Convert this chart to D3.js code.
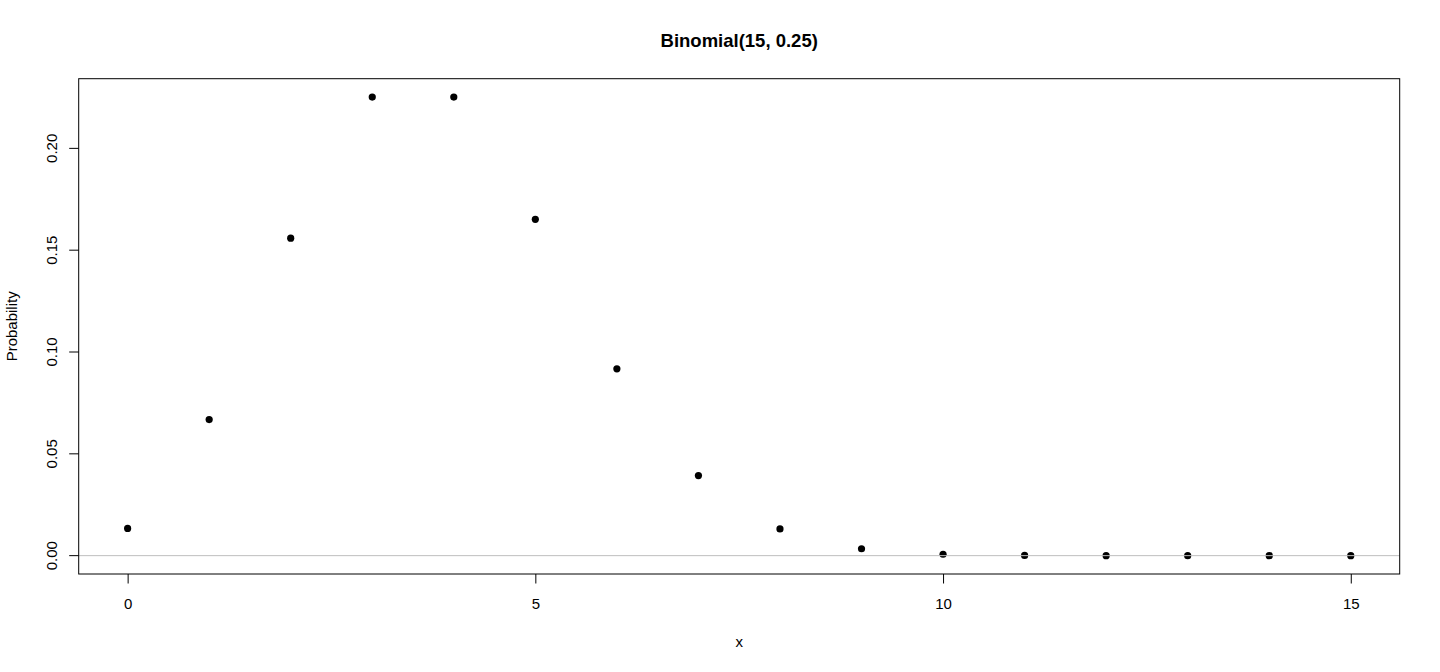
<!DOCTYPE html>
<html>
<head>
<meta charset="utf-8">
<script src="https://cdn.jsdelivr.net/npm/d3@7"></script>
<style>
  body { margin: 0; background: #fff; }
  svg { display: block; font-family: "Liberation Sans", Arial, Helvetica, sans-serif; }
</style>
</head>
<body>
<div id="chart"></div>
<script>
var width = 1440,
    height = 672;

// x values and binomial(15, 0.25) probabilities
var xs = [0, 1, 2, 3, 4, 5, 6, 7, 8, 9, 10, 11, 12, 13, 14, 15];
var probs = [0.01336, 0.06682, 0.15591, 0.22520, 0.22520, 0.16515, 0.09175, 0.03932,
             0.01311, 0.00340, 0.00068, 0.000103, 0.0000115, 0.00000088, 0.000000042, 0.0000000009];
var xTicks = [0, 5, 10, 15];
var yTicks = [0, 0.05, 0.10, 0.15, 0.20];

var margin = {left: 78.7, right: 40.3, top: 78.7, bottom: 98};

var svg = d3.select("#chart").append("svg")
    .attr("width", width)
    .attr("height", height);

// R style 4% padding on both axes
var xPad = (15 - 0) * 0.04,
    yMax = d3.max(probs),
    yPad = yMax * 0.04;

var x = d3.scaleLinear()
    .domain([0 - xPad, 15 + xPad])
    .range([margin.left, width - margin.right]);

var y = d3.scaleLinear()
    .domain([0 - yPad, yMax + yPad])
    .range([height - margin.bottom, margin.top]);

var plotBottom = height - margin.bottom;

// points
svg.selectAll(".pt")
    .data(xs)
    .enter()
    .append("circle")
    .attr("class", "pt")
    .attr("cx", d => x(d))
    .attr("cy", (d, i) => y(probs[i]))
    .attr("r", 3.6)
    .attr("fill", "#000");

// zero reference line
svg.append("line")
    .attr("x1", margin.left)
    .attr("x2", width - margin.right)
    .attr("y1", y(0))
    .attr("y2", y(0))
    .attr("stroke", "#bebebe")
    .attr("stroke-width", 1);

// box
svg.append("rect")
    .attr("x", margin.left)
    .attr("y", margin.top)
    .attr("width", width - margin.left - margin.right)
    .attr("height", plotBottom - margin.top)
    .attr("fill", "none")
    .attr("stroke", "#000")
    .attr("stroke-width", 1);

// x axis
var xAxis = svg.append("g")
    .attr("transform", "translate(0," + plotBottom + ")")
    .call(d3.axisBottom(x).tickValues(xTicks).tickSize(9.5).tickPadding(15).tickFormat(d3.format("d")));
xAxis.select(".domain").remove();
xAxis.selectAll("text").style("font-size", "15px").attr("fill", "#000");

// y axis
var yAxis = svg.append("g")
    .attr("transform", "translate(" + margin.left + ",0)")
    .call(d3.axisLeft(y).tickValues(yTicks).tickSize(9.5).tickFormat(d3.format(".2f")));
yAxis.select(".domain").remove();
yAxis.selectAll("text")
    .style("font-size", "15px")
    .attr("fill", "#000")
    .attr("text-anchor", "middle")
    .attr("dy", null)
    .attr("x", null)
    .attr("dominant-baseline", "central")
    .attr("transform", d => "translate(" + (-27) + "," + y(d) + ") rotate(-90)")
    .attr("y", 0);
yAxis.selectAll(".tick").attr("transform", null);
yAxis.selectAll(".tick line")
    .attr("y1", d => y(d))
    .attr("y2", d => y(d));

// title
svg.append("text")
    .attr("x", (margin.left + width - margin.right) / 2)
    .attr("y", 47)
    .attr("text-anchor", "middle")
    .style("font-size", "18.5px")
    .style("font-weight", "bold")
    .text("Binomial(15, 0.25)");

// axis labels
svg.append("text")
    .attr("x", (margin.left + width - margin.right) / 2)
    .attr("y", 647)
    .attr("text-anchor", "middle")
    .style("font-size", "15px")
    .text("x");

svg.append("text")
    .attr("transform", "translate(17," + ((margin.top + plotBottom) / 2) + ") rotate(-90)")
    .attr("text-anchor", "middle")
    .style("font-size", "15px")
    .text("Probability");
</script>
</body>
</html>
